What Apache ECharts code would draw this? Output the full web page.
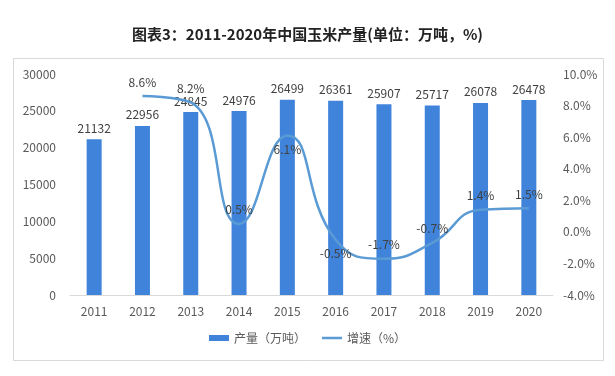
<!DOCTYPE html>
<html>
<head>
<meta charset="utf-8">
<script src="https://cdn.jsdelivr.net/npm/echarts@6/dist/echarts.min.js"></script>
<style>
html,body{margin:0;padding:0;background:#fff;}
#c{width:615px;height:376px;}
</style>
</head>
<body>
<div id="c"></div>
<script>
var titleText = '图表3：2011-2020年中国玉米产量(单位：万吨，%)';
var years = ['2011','2012','2013','2014','2015','2016','2017','2018','2019','2020'];
var output = [21132, 22956, 24845, 24976, 26499, 26361, 25907, 25717, 26078, 26478];
var growth = [null, 8.6, 8.2, 0.5, 6.1, -0.5, -1.7, -0.7, 1.4, 1.5];
var leftTicks = [0, 5000, 10000, 15000, 20000, 25000, 30000];
var rightTicks = [-4, -2, 0, 2, 4, 6, 8, 10];
var seriesNames = ['产量（万吨）', '增速（%）'];

var belowIdx = {4: true, 5: true};
var growthData = growth.map(function (v, i) {
  if (v === null) return null;
  return belowIdx[i] ? {value: v, label: {position: 'bottom', distance: 8}} : v;
});

var chart = echarts.init(document.getElementById('c'));
var font = 'Microsoft YaHei, "Noto Sans CJK SC", sans-serif';
chart.setOption({
  animation: false,
  textStyle: {fontFamily: font},
  title: {
    text: titleText, left: 'center', top: 22,
    textStyle: {fontSize: 15, fontWeight: 'bold', color: '#222', fontFamily: font}
  },
  graphic: [{
    type: 'rect', shape: {x: 13.5, y: 58.5, width: 590, height: 302},
    style: {fill: 'none', stroke: '#d9d9d9', lineWidth: 1}, silent: true, z: -1
  }],
  legend: {
    bottom: 27, left: 'center', itemGap: 16, itemWidth: 20, itemHeight: 6,
    textStyle: {fontSize: 12, color: '#595959'},
    data: [
      {name: seriesNames[0], icon: 'rect'},
      {name: seriesNames[1], icon: 'path://M0,0H20V2.5H0Z', itemStyle: {color: '#5B9BD5'}}
    ]
  },
  grid: {left: 70, right: 62, top: 74, height: 221},
  xAxis: {
    type: 'category', data: years,
    axisTick: {show: false},
    axisLine: {lineStyle: {color: '#d9d9d9'}},
    axisLabel: {color: '#595959', fontSize: 12, margin: 10}
  },
  yAxis: [{
    type: 'value', min: leftTicks[0], max: leftTicks[leftTicks.length - 1], interval: 5000,
    splitLine: {show: false}, axisLine: {show: false}, axisTick: {show: false},
    axisLabel: {color: '#595959', fontSize: 12, margin: 14,
      formatter: function (v) { return String(v); }}
  }, {
    type: 'value', min: rightTicks[0], max: rightTicks[rightTicks.length - 1], interval: 2,
    splitLine: {show: false}, axisLine: {show: false}, axisTick: {show: false},
    axisLabel: {color: '#595959', fontSize: 12, margin: 10,
      formatter: function (v) { return v.toFixed(1) + '%'; }}
  }],
  series: [{
    name: seriesNames[0], type: 'bar', data: output, barWidth: 15,
    itemStyle: {color: '#3F83DB'},
    label: {show: true, position: 'top', color: '#404040', fontSize: 12, distance: 5}
  }, {
    name: seriesNames[1], type: 'line', yAxisIndex: 1, data: growthData,
    smooth: 0.5, showSymbol: true, symbol: 'circle', symbolSize: 0.1,
    lineStyle: {color: '#5B9BD5', width: 2.5},
    itemStyle: {color: '#5B9BD5'},
    label: {show: true, position: 'top', color: '#404040', fontSize: 12, distance: 8,
      formatter: function (p) { return p.value.toFixed(1) + '%'; }},
    labelLayout: {hideOverlap: false},
    z: 3
  }]
});
</script>
</body>
</html>
